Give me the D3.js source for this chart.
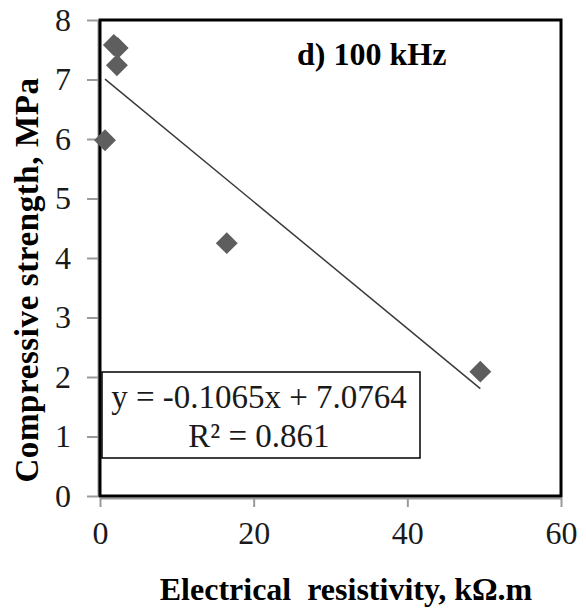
<!DOCTYPE html>
<html>
<head>
<meta charset="utf-8">
<script src="https://cdn.jsdelivr.net/npm/d3@7"></script>
<style>
  html, body { margin: 0; padding: 0; background: #fff; }
</style>
</head>
<body>
<svg id="chart" width="586" height="612"></svg>
<script>
// Measured samples at 100 kHz
const resistivity = [1.8, 2.3, 2.2, 0.65, 16.5, 49.5];   // kΩ.m
const strength    = [7.58, 7.53, 7.24, 5.98, 4.25, 2.09]; // MPa

// Linear fit reported on the chart
const slope = -0.1065;
const intercept = 7.0764;
const rSquared = 0.861;

const xTicks = [0, 20, 40, 60];
const yTicks = [0, 1, 2, 3, 4, 5, 6, 7, 8];

const panelTitle = "d) 100 kHz";
const xTitle = "Electrical\u00A0 resistivity, k\u03A9.m";
const yTitle = "Compressive strength, MPa";

const serif = "'Liberation Serif', 'Times New Roman', Times, serif";
const svg = d3.select("#chart");
const plotLeft = 100, plotRight = 561, plotTop = 20, plotBottom = 496;

const x = d3.scaleLinear().domain([0, 60]).range([plotLeft, plotRight]);
const y = d3.scaleLinear().domain([0, 8]).range([plotBottom, plotTop]);

// Axes (grey ticks)
const yAxis = svg.append("g")
  .attr("transform", `translate(${plotLeft - 2},0)`)
  .call(d3.axisLeft(y).tickValues(yTicks).tickFormat(d3.format("d"))
    .tickSize(11).tickSizeOuter(0).tickPadding(16));
const xAxis = svg.append("g")
  .attr("transform", `translate(0,${plotBottom + 2})`)
  .call(d3.axisBottom(x).tickValues(xTicks).tickFormat(d3.format("d"))
    .tickSize(9).tickSizeOuter(0).tickPadding(14));
[yAxis, xAxis].forEach(g => {
  g.attr("font-family", null).attr("font-size", null);
  g.select(".domain").attr("stroke", "#9a9a9a").attr("stroke-width", 2);
  g.selectAll(".tick line").attr("stroke", "#9a9a9a").attr("stroke-width", 2);
  g.selectAll(".tick text")
    .style("font-family", serif)
    .style("font-size", "32px").attr("fill", "#1a1a1a");
});

// Plot frame
svg.append("rect")
  .attr("x", x(0)).attr("y", y(8))
  .attr("width", x(60) - x(0)).attr("height", y(0) - y(8))
  .attr("fill", "none").attr("stroke", "#000").attr("stroke-width", 3);

// Trend line over the range of the data
const [xmin, xmax] = d3.extent(resistivity);
svg.append("line")
  .attr("x1", x(xmin)).attr("y1", y(slope * xmin + intercept))
  .attr("x2", x(xmax)).attr("y2", y(slope * xmax + intercept))
  .attr("stroke", "#3a3a3a").attr("stroke-width", 1.5);

// Diamond markers
const diamond = d3.symbol().type(d3.symbolSquare).size(240);
svg.append("g").selectAll("path")
  .data(resistivity.map((r, i) => [r, strength[i]]))
  .join("path")
  .attr("d", diamond)
  .attr("transform", d => `translate(${x(d[0])},${y(d[1])}) rotate(45)`)
  .attr("fill", "#5e5e5e");

// Equation box
const box = svg.append("g");
box.append("rect")
  .attr("x", 102).attr("y", 372).attr("width", 318).attr("height", 86)
  .attr("fill", "#fff").attr("stroke", "#000").attr("stroke-width", 1.5);
box.append("text")
  .attr("x", 259).attr("y", 408).attr("text-anchor", "middle")
  .style("font-family", serif).style("font-size", "33px").attr("fill", "#1a1a1a")
  .text(`y = ${slope}x + ${intercept}`);
box.append("text")
  .attr("x", 259).attr("y", 447).attr("text-anchor", "middle")
  .style("font-family", serif).style("font-size", "33px").attr("fill", "#1a1a1a")
  .text(`R\u00B2 = ${rSquared}`);

// Panel title
svg.append("text")
  .attr("x", 297).attr("y", 65)
  .style("font-family", serif).style("font-size", "32px").style("font-weight", "bold")
  .text(panelTitle);

// Axis titles
svg.append("text")
  .attr("x", 346).attr("y", 600).attr("text-anchor", "middle")
  .style("font-family", serif).style("font-size", "32px").style("font-weight", "bold")
  .text(xTitle);
svg.append("text")
  .attr("transform", "translate(38,280) rotate(-90)")
  .attr("text-anchor", "middle")
  .style("font-family", serif).style("font-size", "33px").style("font-weight", "bold")
  .style("letter-spacing", "0.6px")
  .text(yTitle);
</script>
</body>
</html>
